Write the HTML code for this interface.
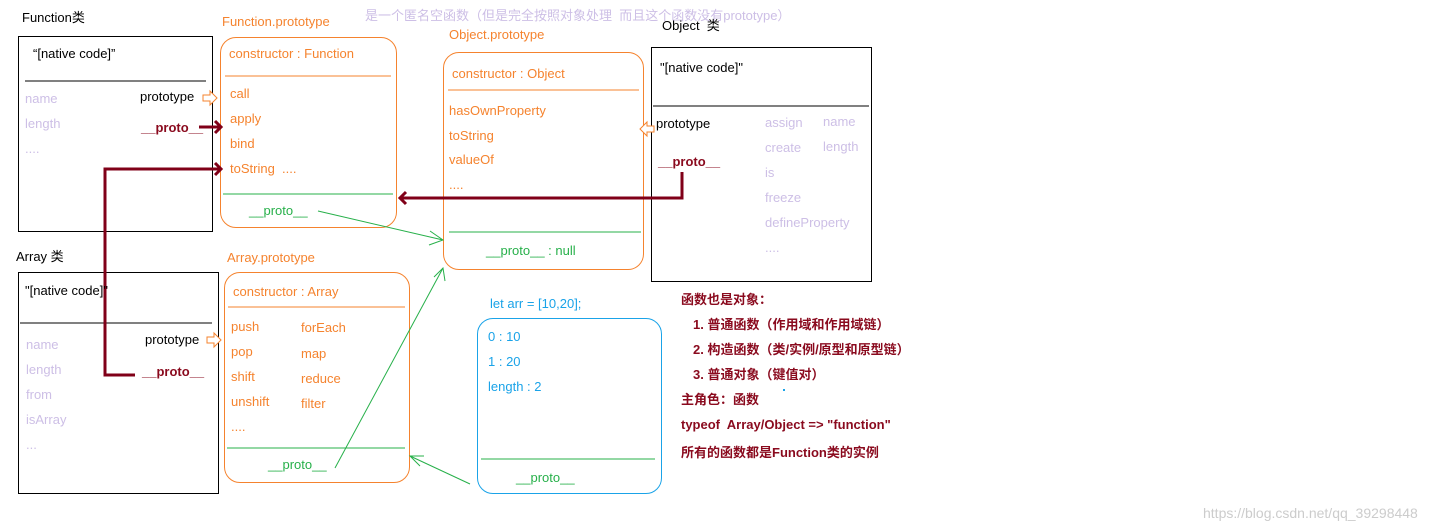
<!DOCTYPE html>
<html><head><meta charset="utf-8"><style>
body{margin:0;width:1454px;height:532px;background:#fff;position:relative;overflow:hidden;font-family:"Liberation Sans","Noto Sans CJK SC",sans-serif;font-size:13px}
.t{position:absolute;line-height:16px;white-space:nowrap}
.o{color:#f5832e}.l{color:#cdbfe6}.k{color:#000}.r{color:#8a0a1e;font-weight:bold}.g{color:#27b04a}.b{color:#1aa3e8}
.box{position:absolute;box-sizing:border-box}
svg{position:absolute;left:0;top:0}
</style></head><body>
<div class="box" style="left:18px;top:36px;width:195px;height:196px;border:1px solid #000"></div>
<div class="box" style="left:220px;top:37px;width:177px;height:191px;border:1px solid #f5832e;border-radius:16px"></div>
<div class="box" style="left:443px;top:52px;width:201px;height:218px;border:1px solid #f5832e;border-radius:16px"></div>
<div class="box" style="left:651px;top:47px;width:221px;height:235px;border:1px solid #000"></div>
<div class="box" style="left:18px;top:272px;width:201px;height:222px;border:1px solid #000"></div>
<div class="box" style="left:224px;top:272px;width:186px;height:211px;border:1px solid #f5832e;border-radius:16px"></div>
<div class="box" style="left:477px;top:318px;width:185px;height:176px;border:1px solid #1aa3e8;border-radius:16px"></div>

<svg width="1454" height="532">
<line x1="25" y1="81" x2="206" y2="81" stroke="#000"/>
<line x1="225" y1="76" x2="391" y2="76" stroke="#f5832e"/>
<line x1="223" y1="194" x2="393" y2="194" stroke="#27b04a"/>
<line x1="448" y1="90" x2="639" y2="90" stroke="#f5832e"/>
<line x1="449" y1="232" x2="641" y2="232" stroke="#27b04a"/>
<line x1="653" y1="106" x2="869" y2="106" stroke="#000"/>
<line x1="20" y1="323" x2="212" y2="323" stroke="#000"/>
<line x1="228" y1="307" x2="405" y2="307" stroke="#f5832e"/>
<line x1="227" y1="448" x2="405" y2="448" stroke="#27b04a"/>
<line x1="481" y1="459" x2="655" y2="459" stroke="#27b04a"/>
<!-- hollow arrows -->
<path d="M203,95 h7 v-4 l7,7 l-7,7 v-4 h-7z" fill="#fff" stroke="#f5832e"/>
<path d="M207,337 h7 v-4 l7,7 l-7,7 v-4 h-7z" fill="#fff" stroke="#f5832e"/>
<path d="M654,126 h-7 v-4 l-7,7 l7,7 v-4 h7z" fill="#fff" stroke="#f5832e"/>
<!-- dark red -->
<g stroke="#800018" stroke-width="3" fill="none">
<line x1="199" y1="127" x2="220" y2="127"/><path d="M215,121 l6,6 l-6,6"/>
<path d="M135,375 H105 V169 H220"/><path d="M215,163 l6,6 l-6,6"/>
<path d="M682,172 V198 H400"/><path d="M406,192 l-6,6 l6,6"/>
</g>
<!-- green -->
<g stroke="#27b04a" stroke-width="1" fill="none">
<line x1="318" y1="211" x2="443" y2="240"/><path d="M430,231 l13,9 l-14,5"/>
<line x1="335" y1="468" x2="443" y2="268"/><path d="M434,277 l9,-9 l2,13"/>
<line x1="470" y1="484" x2="410" y2="456"/><path d="M424,456 l-14,0 l10,10"/>
</g>
<rect x="783" y="389" width="2" height="2" fill="#1aa3e8"/>
</svg>

<div class="t k" style="left:22px;top:10px">Function类</div>
<div class="t k" style="left:33px;top:46px">“[native code]”</div>
<div class="t l" style="left:25px;top:91px">name</div>
<div class="t l" style="left:25px;top:116px">length</div>
<div class="t l" style="left:25px;top:141px">....</div>
<div class="t k" style="left:140px;top:89px">prototype</div>
<div class="t r" style="left:141px;top:120px">__proto__</div>

<div class="t o" style="left:222px;top:14px">Function.prototype</div>
<div class="t o" style="left:229px;top:46px">constructor : Function</div>
<div class="t o" style="left:230px;top:86px">call</div>
<div class="t o" style="left:230px;top:111px">apply</div>
<div class="t o" style="left:230px;top:136px">bind</div>
<div class="t o" style="left:230px;top:161px">toString&nbsp; ....</div>
<div class="t g" style="left:249px;top:203px">__proto__</div>

<div class="t l" style="left:365px;top:8px">是一个匿名空函数（但是完全按照对象处理&nbsp; 而且这个函数没有prototype）</div>

<div class="t o" style="left:449px;top:27px">Object.prototype</div>
<div class="t o" style="left:452px;top:66px">constructor : Object</div>
<div class="t o" style="left:449px;top:103px">hasOwnProperty</div>
<div class="t o" style="left:449px;top:128px">toString</div>
<div class="t o" style="left:449px;top:152px">valueOf</div>
<div class="t o" style="left:449px;top:177px">....</div>
<div class="t g" style="left:486px;top:243px">__proto__ : null</div>

<div class="t k" style="left:662px;top:18px">Object&nbsp; 类</div>
<div class="t k" style="left:660px;top:60px">"[native code]"</div>
<div class="t k" style="left:656px;top:116px">prototype</div>
<div class="t r" style="left:658px;top:154px">__proto__</div>
<div class="t l" style="left:765px;top:115px">assign</div>
<div class="t l" style="left:823px;top:114px">name</div>
<div class="t l" style="left:765px;top:140px">create</div>
<div class="t l" style="left:823px;top:139px">length</div>
<div class="t l" style="left:765px;top:165px">is</div>
<div class="t l" style="left:765px;top:190px">freeze</div>
<div class="t l" style="left:765px;top:215px">defineProperty</div>
<div class="t l" style="left:765px;top:240px">....</div>

<div class="t k" style="left:16px;top:249px">Array 类</div>
<div class="t k" style="left:25px;top:283px">"[native code]"</div>
<div class="t l" style="left:26px;top:337px">name</div>
<div class="t l" style="left:26px;top:362px">length</div>
<div class="t l" style="left:26px;top:387px">from</div>
<div class="t l" style="left:26px;top:412px">isArray</div>
<div class="t l" style="left:26px;top:437px">...</div>
<div class="t k" style="left:145px;top:332px">prototype</div>
<div class="t r" style="left:142px;top:364px">__proto__</div>

<div class="t o" style="left:227px;top:250px">Array.prototype</div>
<div class="t o" style="left:233px;top:284px">constructor : Array</div>
<div class="t o" style="left:231px;top:319px">push</div>
<div class="t o" style="left:231px;top:344px">pop</div>
<div class="t o" style="left:231px;top:369px">shift</div>
<div class="t o" style="left:231px;top:394px">unshift</div>
<div class="t o" style="left:231px;top:419px">....</div>
<div class="t o" style="left:301px;top:320px">forEach</div>
<div class="t o" style="left:301px;top:346px">map</div>
<div class="t o" style="left:301px;top:371px">reduce</div>
<div class="t o" style="left:301px;top:396px">filter</div>
<div class="t g" style="left:268px;top:457px">__proto__</div>

<div class="t b" style="left:490px;top:296px">let arr = [10,20];</div>
<div class="t b" style="left:488px;top:329px">0 : 10</div>
<div class="t b" style="left:488px;top:354px">1 : 20</div>
<div class="t b" style="left:488px;top:379px">length : 2</div>
<div class="t g" style="left:516px;top:470px">__proto__</div>

<div class="t r" style="left:681px;top:292px">函数也是对象：</div>
<div class="t r" style="left:693px;top:317px">1. 普通函数（作用域和作用域链）</div>
<div class="t r" style="left:693px;top:342px">2. 构造函数（类/实例/原型和原型链）</div>
<div class="t r" style="left:693px;top:367px">3. 普通对象（键值对）</div>
<div class="t r" style="left:681px;top:392px">主角色：函数</div>
<div class="t r" style="left:681px;top:417px">typeof&nbsp; Array/Object =&gt; "function"</div>
<div class="t r" style="left:681px;top:445px">所有的函数都是Function类的实例</div>

<div class="t" style="left:1203px;top:505px;color:#ccc;font-size:14px">https://blog.csdn.net/qq_39298448</div>
</body></html>
